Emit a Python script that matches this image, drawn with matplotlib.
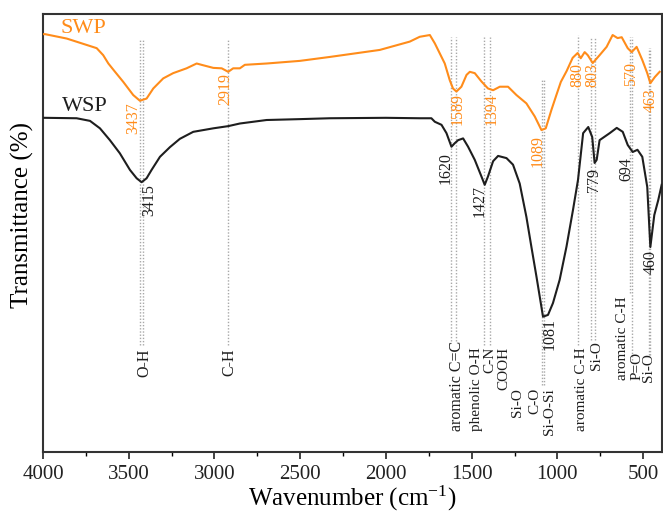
import numpy as np
import matplotlib
matplotlib.use("Agg")
import matplotlib.pyplot as plt

plt.rcParams['font.family'] = ['Liberation Serif', 'DejaVu Serif']
plt.rcParams['mathtext.fontset'] = 'custom'
plt.rcParams['mathtext.rm'] = 'Liberation Serif'
plt.rcParams['mathtext.it'] = 'Liberation Serif:italic'

# ---------------- data (wavenumber cm-1, transmittance a.u.) ----------------
swp_w = [4000, 3988, 3862, 3687, 3649, 3619, 3580, 3532, 3474, 3435, 3396, 3357,
         3299, 3241, 3163, 3104, 3066, 3007, 2958, 2920, 2891, 2852, 2823, 2696,
         2502, 2327, 2036, 1861, 1803, 1744, 1715, 1686, 1657, 1628, 1609, 1589,
         1560, 1530, 1511, 1482, 1443, 1405, 1375, 1336, 1288, 1239, 1181, 1132,
         1093, 1068, 1035, 1006, 980, 946, 911, 882, 864, 841, 823, 794, 754, 713,
         678, 649, 625, 590, 567, 538, 505, 476, 458, 432, 404]
swp_t = [95.4, 95.4, 94.4, 92.2, 90.6, 88.7, 86.8, 84.5, 81.5, 80.2, 80.7, 83.0,
         85.3, 86.5, 87.6, 88.7, 88.3, 87.7, 87.6, 86.8, 87.6, 87.6, 88.4, 88.7,
         89.3, 90.2, 91.8, 93.7, 94.8, 95.2, 93.3, 91.0, 88.7, 84.9, 83.0, 82.3,
         83.4, 86.1, 86.8, 86.5, 84.6, 83.0, 82.6, 83.4, 83.4, 81.5, 79.6, 76.6,
         73.5, 73.9, 78.1, 81.5, 84.5, 87.0, 90.0, 91.1, 89.9, 91.3, 90.6, 88.8,
         90.6, 92.5, 95.2, 94.5, 94.7, 92.2, 91.3, 92.5, 89.5, 86.5, 84.2, 85.6,
         86.8]

wsp_w = [4000, 3988, 3804, 3726, 3668, 3610, 3552, 3493, 3454, 3425, 3396, 3367,
         3318, 3260, 3202, 3124, 3007, 2920, 2852, 2696, 2502, 2327, 2000, 1803,
         1735, 1715, 1676, 1647, 1618, 1599, 1579, 1550, 1521, 1482, 1443, 1424,
         1405, 1375, 1346, 1297, 1259, 1220, 1181, 1152, 1122, 1084, 1055, 1026,
         987, 947, 909, 880, 850, 820, 797, 783, 771, 754, 695, 654, 619, 590,
         561, 533, 505, 476, 458, 435, 412, 392]
wsp_t = [76.3, 76.3, 76.2, 75.6, 73.9, 71.2, 68.2, 64.4, 62.5, 61.6, 62.5, 64.4,
         67.4, 69.6, 71.5, 73.1, 73.9, 74.4, 75.0, 75.8, 76.0, 76.2, 76.3, 76.2,
         76.2, 75.4, 74.7, 72.8, 69.7, 70.5, 71.2, 71.6, 69.7, 66.7, 62.9, 61.0,
         62.9, 66.4, 67.6, 67.1, 65.6, 61.3, 53.7, 46.9, 40.0, 30.9, 31.3, 34.0,
         39.3, 46.9, 55.3, 62.1, 72.8, 74.2, 71.9, 66.0, 66.7, 71.2, 72.8, 74.0,
         73.1, 70.1, 68.5, 69.0, 67.4, 60.5, 46.8, 54.1, 57.5, 61.0]

# peak labels
swp_peaks = ['3437', '2919', '1589', '1394', '1089', '880', '803', '570', '463']
wsp_peaks = ['3415', '1620', '1427', '1081', '779', '694', '460']
# band assignment labels
bands = ['O-H', 'C-H', 'aromatic C=C', 'phenolic O-H', 'C-N', 'COOH',
         'Si-O', 'C-O', 'Si-O-Si', 'aromatic C-H', 'Si-O',
         'aromatic C-H', 'P=O', 'Si-O']
# marker line wavenumbers
line_w = [3437, 3415, 2919, 1620, 1589, 1427, 1394, 1089, 1081, 880, 803, 779,
          575, 565, 463, 460]

# ---------------- layout / styling ----------------
swp_peak_pos = [(3475, 79.9), (2939, 86.5), (1582, 82.0), (1383, 82.0),
                (1115, 72.4), (886, 88.8), (794, 88.8), (573, 89.0), (456, 83.1)]
wsp_peak_pos = [(3382, 61.2), (1651, 68.5), (1453, 61.0), (1045, 30.6),
                (789, 64.8), (596, 67.4), (456, 46.1)]
band_pos = [(3411, 23.7, 'top', 11.5), (2916, 23.7, 'top', 11.5),
            (1587, 25.3, 'top', 11.5),
            (1474, 24.0, 'top', 11), (1394, 24.0, 'top', 11),
            (1313, 24.0, 'top', 11),
            (1230, 14.6, 'top', 11), (1132, 14.6, 'top', 11),
            (1045, 14.6, 'top', 11),
            (857, 24.0, 'top', 11), (772, 25.3, 'top', 11),
            (622, 16.4, 'bottom', 11), (538, 16.4, 'bottom', 11),
            (466, 16.0, 'bottom', 11)]
line_span = [(94.1, 24.4), (94.1, 24.4), (94.1, 24.4), (94.7, 25.3),
             (94.7, 25.3), (94.7, 24.4), (94.7, 24.4), (84.9, 15.3),
             (84.9, 15.3), (95.2, 24.4), (94.7, 25.6), (94.7, 25.6),
             (94.7, 36.3), (94.7, 21.0), (92.2, 22.1), (92.2, 22.1)]

orange = '#ff8c1a'
dark = '#1e1e1e'

fig = plt.figure(figsize=(6.63, 5.15), dpi=100)
ax = fig.add_axes([0.0649, 0.1223, 0.9336, 0.8505])

for w, (y0, y1) in zip(line_w, line_span):
    ax.plot([w, w], [y1, y0], color='#a8a8a8', lw=1.0,
            linestyle=(0, (1, 1.3)), zorder=1)

ax.plot(swp_w, swp_t, color=orange, lw=1.5, zorder=3)
ax.plot(wsp_w, wsp_t, color=dark, lw=1.5, zorder=3)

for lab, (x, y) in zip(swp_peaks, swp_peak_pos):
    ax.text(x, y, lab, rotation=90, ha='center', va='top', fontsize=11.5,
            color=orange, zorder=4)
for lab, (x, y) in zip(wsp_peaks, wsp_peak_pos):
    ax.text(x, y, lab, rotation=90, ha='center', va='top', fontsize=11.5,
            color=dark, zorder=4)
for lab, (x, y, va, fs) in zip(bands, band_pos):
    ax.text(x, y, lab, rotation=90, ha='center', va=va, fontsize=fs,
            color=dark, zorder=4)

ax.text(3901, 96.6, 'SWP', color=orange, fontsize=16, va='center', ha='left')
ax.text(3889, 78.8, 'WSP', color=dark, fontsize=16, va='center', ha='left')

ax.set_xlim(4000, 390)
ax.set_ylim(0, 100)
ax.set_xticks(np.arange(4000, 499, -500))
ax.set_xticks(np.arange(3750, 399, -500), minor=True)
ax.set_yticks([])
ax.tick_params(axis='x', which='major', direction='out', length=5, width=1.2,
               labelsize=15, pad=4, colors='#222')
ax.tick_params(axis='x', which='minor', direction='out', length=3, width=1.0)
for s in ax.spines.values():
    s.set_linewidth(1.5)
    s.set_color('#333')

ax.set_xlabel('Wavenumber (cm$^{\\mathregular{-1}}$)', fontsize=18, labelpad=0)
ax.set_ylabel('Transmittance (%)', fontsize=18)
ax.yaxis.set_label_coords(-0.015, 0.54)

fig.savefig('out.png', dpi=100)
